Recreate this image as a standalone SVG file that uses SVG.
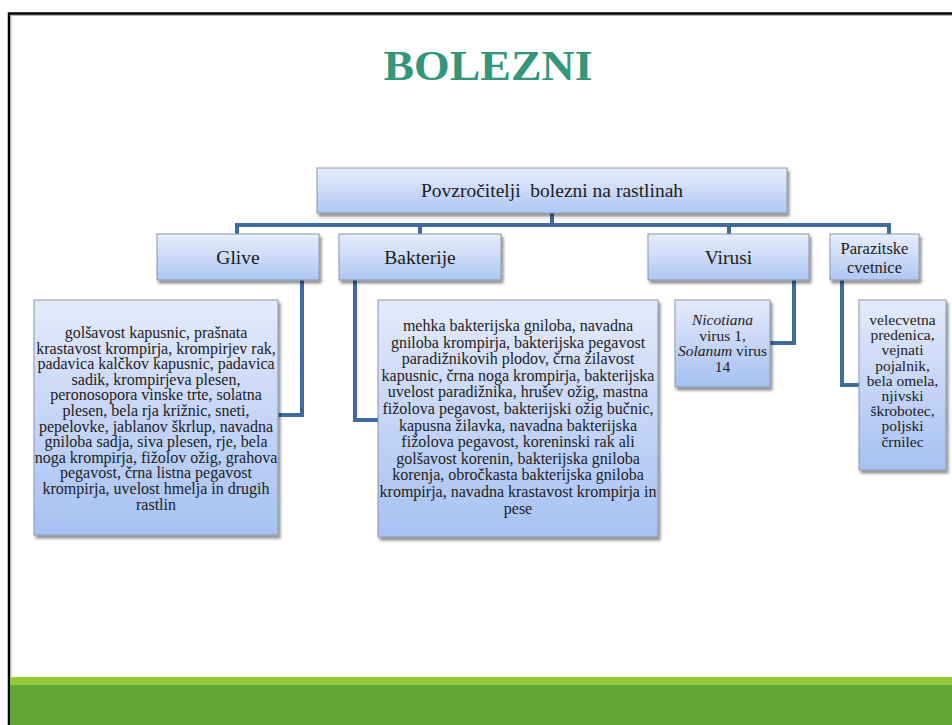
<svg xmlns="http://www.w3.org/2000/svg" width="952" height="725" viewBox="0 0 952 725">
<defs>
<style>
.t{font-family:"Liberation Serif","Times New Roman",serif;fill:#1c1c1c;text-anchor:middle}
.box{stroke:#8896ad;stroke-width:1;filter:url(#sh)}
.lv1{fill:url(#g1)}
.lv2{fill:url(#g2)}
.conn{fill:none;stroke:#3e6b9b;stroke-width:4;stroke-linejoin:miter}
</style>
<linearGradient id="g1" x1="0" y1="0" x2="0" y2="1">
<stop offset="0" stop-color="#e8eefb"/><stop offset="1" stop-color="#aec7f3"/>
</linearGradient>
<linearGradient id="g2" x1="0" y1="0" x2="0" y2="1">
<stop offset="0" stop-color="#e4eafa"/><stop offset="1" stop-color="#a6c1f2"/>
</linearGradient>
<filter id="sh" x="-10%" y="-10%" width="130%" height="130%">
<feGaussianBlur in="SourceAlpha" stdDeviation="1.5"/>
<feOffset dx="2" dy="3" result="o"/>
<feComponentTransfer><feFuncA type="linear" slope="0.45"/></feComponentTransfer>
<feMerge><feMergeNode/><feMergeNode in="SourceGraphic"/></feMerge>
</filter>
</defs>
<rect width="952" height="725" fill="#ffffff"/>
<!-- slide frame -->
<path d="M9,725 V13.5 H952" fill="none" stroke="#000" stroke-width="2.5"/>
<path d="M11,725 V15.5 H952" fill="none" stroke="#b0b0b0" stroke-width="1"/>
<rect x="10" y="677" width="942" height="8" fill="#97c83a"/>
<rect x="10" y="685" width="942" height="40" fill="#63a537"/>
<text x="488" y="80" font-family="'Liberation Serif',serif" font-weight="bold" font-size="42" fill="#33967a" text-anchor="middle" textLength="209" lengthAdjust="spacingAndGlyphs">BOLEZNI</text>

<g id="connectors">
<path class="conn" d="M552,213 V225 M237,234 V225 H889 V234 M420,225 V234 M729,225 V234"/>
<path class="conn" d="M302,280 V415 H278"/>
<path class="conn" d="M355,280 V420 H378"/>
<path class="conn" d="M794,280 V343 H770"/>
<path class="conn" d="M842,280 V385 H859"/>
</g>

<g id="root">
<rect class="box lv1" x="317" y="168" width="470" height="45"/>
<text class="t" x="552" y="197" font-size="19.5" xml:space="preserve">Povzročitelji  bolezni na rastlinah</text>
</g>
<g id="glive">
<rect class="box lv1" x="157" y="234" width="162" height="46"/>
<text class="t" x="238" y="264" font-size="19.5">Glive</text>
</g>
<g id="bakterije">
<rect class="box lv1" x="339" y="234" width="162" height="46"/>
<text class="t" x="420" y="264" font-size="19.5">Bakterije</text>
</g>
<g id="virusi">
<rect class="box lv1" x="648" y="234" width="161" height="46"/>
<text class="t" x="728.5" y="264" font-size="19.5">Virusi</text>
</g>
<g id="parazitske">
<rect class="box lv1" x="830" y="234" width="89" height="46"/>
<text class="t" x="874.5" y="254" font-size="16.5">Parazitske</text>
<text class="t" x="874.5" y="273" font-size="16.5">cvetnice</text>
</g>

<g id="glive-list">
<rect class="box lv2" x="34" y="300" width="244" height="235"/>
<g class="t" font-size="16">
<text x="156" y="338">golšavost kapusnic, prašnata</text>
<text x="156" y="353.6">krastavost krompirja, krompirjev rak,</text>
<text x="156" y="369.2">padavica kalčkov kapusnic, padavica</text>
<text x="156" y="384.8">sadik, krompirjeva plesen,</text>
<text x="156" y="400.4">peronosopora vinske trte, solatna</text>
<text x="156" y="416">plesen, bela rja križnic, sneti,</text>
<text x="156" y="431.6">pepelovke, jablanov škrlup, navadna</text>
<text x="156" y="447.2">gniloba sadja, siva plesen, rje, bela</text>
<text x="156" y="462.8">noga krompirja, fižolov ožig, grahova</text>
<text x="156" y="478.4">pegavost, črna listna pegavost</text>
<text x="156" y="494">krompirja, uvelost hmelja in drugih</text>
<text x="156" y="509.6">rastlin</text>
</g>
</g>

<g id="bakterije-list">
<rect class="box lv2" x="378" y="300" width="280" height="237"/>
<g class="t" font-size="16">
<text x="518" y="331">mehka bakterijska gniloba, navadna</text>
<text x="518" y="347.6">gniloba krompirja, bakterijska pegavost</text>
<text x="518" y="364.2">paradižnikovih plodov, črna žilavost</text>
<text x="518" y="380.8">kapusnic, črna noga krompirja, bakterijska</text>
<text x="518" y="397.4">uvelost paradižnika, hrušev ožig, mastna</text>
<text x="518" y="414">fižolova pegavost, bakterijski ožig bučnic,</text>
<text x="518" y="430.6">kapusna žilavka, navadna bakterijska</text>
<text x="518" y="447.2">fižolova pegavost, koreninski rak ali</text>
<text x="518" y="463.8">golšavost korenin, bakterijska gniloba</text>
<text x="518" y="480.4">korenja, obročkasta bakterijska gniloba</text>
<text x="518" y="497">krompirja, navadna krastavost krompirja in</text>
<text x="518" y="513.6">pese</text>
</g>
</g>

<g id="virusi-list">
<rect class="box lv2" x="675" y="300" width="95" height="87"/>
<g class="t" font-size="15.5">
<text x="722.5" y="325" font-style="italic">Nicotiana</text>
<text x="722.5" y="340.5">virus 1,</text>
<text x="722.5" y="356"><tspan font-style="italic">Solanum</tspan> virus</text>
<text x="722.5" y="372">14</text>
</g>
</g>

<g id="parazitske-list">
<rect class="box lv2" x="859" y="300" width="87" height="170"/>
<g class="t" font-size="15.5">
<text x="902.5" y="325">velecvetna</text>
<text x="902.5" y="340.2">predenica,</text>
<text x="902.5" y="355.4">vejnati</text>
<text x="902.5" y="370.6">pojalnik,</text>
<text x="902.5" y="385.8">bela omela,</text>
<text x="902.5" y="401">njivski</text>
<text x="902.5" y="416.2">škrobotec,</text>
<text x="902.5" y="431.4">poljski</text>
<text x="902.5" y="446.6">črnilec</text>
</g>
</g>
</svg>
